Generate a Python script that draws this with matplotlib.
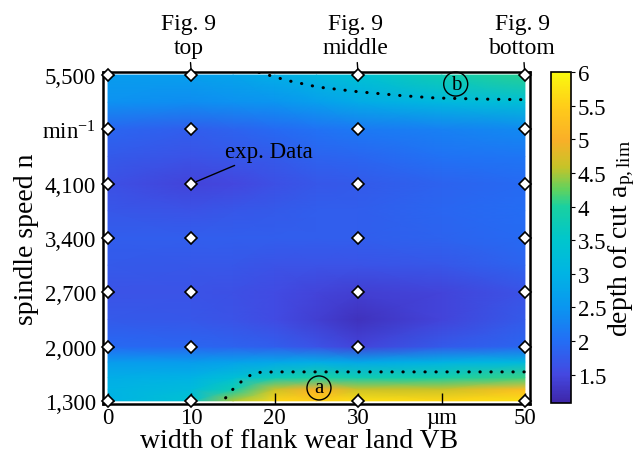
import matplotlib

matplotlib.use('Agg')
import matplotlib.pyplot as plt
import numpy as np
from matplotlib.colors import LinearSegmentedColormap, Normalize

# grid (VB in um, spindle speed in 1/min)
vb = [0, 10, 15, 20, 25, 30, 40, 50]
speed = [1300, 1450, 1600, 1800, 2000, 2350, 2700, 3050, 3400, 3750, 4100, 4450, 4800, 5150, 5500]
depth = [
    [3.0, 3.4, 4.5, 5.6, 5.5, 5.7, 5.6, 5.7],    # 1300
    [3.0, 3.2, 3.8, 4.6, 5.0, 4.6, 4.6, 5.2],    # 1450
    [2.9, 3.0, 3.3, 3.7, 4.0, 3.8, 3.9, 4.1],    # 1600
    [2.6, 2.6, 2.7, 2.8, 2.9, 2.8, 3.0, 3.1],    # 1800
    [1.95, 1.9, 1.85, 1.8, 1.65, 1.45, 1.75, 1.9],  # 2000
    [1.75, 1.7, 1.65, 1.55, 1.4, 1.25, 1.45, 1.75],  # 2350
    [1.65, 1.65, 1.6, 1.55, 1.45, 1.4, 1.45, 1.65],  # 2700
    [1.75, 1.7, 1.7, 1.65, 1.65, 1.65, 1.7, 1.85],  # 3050
    [1.8, 1.8, 1.8, 1.8, 1.8, 1.8, 1.85, 1.95],  # 3400
    [1.7, 1.65, 1.7, 1.75, 1.8, 1.8, 1.9, 2.0],  # 3750
    [1.6, 1.45, 1.5, 1.6, 1.7, 1.75, 1.85, 1.95],  # 4100
    [1.75, 1.65, 1.7, 1.75, 1.85, 1.9, 2.05, 2.1],  # 4450
    [1.9, 1.8, 1.85, 1.95, 2.05, 2.15, 2.25, 2.35],  # 4800
    [2.45, 2.4, 2.45, 2.5, 2.65, 2.85, 3.1, 3.3],  # 5150
    [2.6, 2.65, 2.75, 2.9, 3.1, 3.35, 3.8, 4.05],  # 5500
]

# measured points (markers)
exp_vb = [0, 10, 30, 50]
exp_speed = [1300, 2000, 2700, 3400, 4100, 4800, 5500]

# hand drawn boundaries
line_a_x = [14.1, 14.9, 15.8, 16.7, 17.7, 20.0, 50.6]
line_a_y = [1338, 1441, 1531, 1608, 1665, 1673, 1673]
line_b_x = [18.1, 21.5, 25.2, 30.0, 35.2, 39.2, 45.0, 50.6]
line_b_y = [5535, 5430, 5345, 5285, 5235, 5205, 5190, 5182]

xticks = [0, 10, 20, 30, 40, 50]
xticklabels = ['0', '10', '20', '30', 'µm', '50']
yticks = [1300, 2000, 2700, 3400, 4100, 4800, 5500]
yticklabels = ['1,300', '2,000', '2,700', '3,400', '4,100', r'min$^{\mathrm{-1}}$', '5,500']
cbar_ticks = [1.5, 2, 2.5, 3, 3.5, 4, 4.5, 5, 5.5, 6]
vmin, vmax = 1.08, 6.0

# colour scale as seen on the colour bar (parula like)
cmap_values = [1.08, 1.5, 2.0, 2.5, 3.0, 3.5, 4.0, 4.25, 4.6, 5.0, 5.5, 6.0]
cmap_colors = [(62, 38, 168), (68, 72, 225), (35, 110, 245), (10, 150, 240), (0, 180, 228),
               (0, 198, 205), (25, 208, 160), (95, 210, 95), (200, 195, 40), (250, 175, 40),
               (255, 205, 25), (250, 250, 15)]
cmap = LinearSegmentedColormap.from_list(
    'parula_like',
    [((v - vmin) / (vmax - vmin), tuple(c / 255 for c in col)) for v, col in zip(cmap_values, cmap_colors)],
    N=256)

plt.rcParams['font.family'] = 'Liberation Serif'
plt.rcParams['mathtext.fontset'] = 'custom'
plt.rcParams['mathtext.rm'] = 'Liberation Serif'
plt.rcParams['mathtext.it'] = 'Liberation Serif:italic'

fig = plt.figure(figsize=(6.4, 4.56), dpi=100)
ax = fig.add_axes([0.161, 0.112, 0.667, 0.728])

X, Y = np.meshgrid(vb, speed)
norm = Normalize(vmin=vmin, vmax=vmax)
mesh = ax.pcolormesh(X, Y, np.array(depth), cmap=cmap, norm=norm, shading='gouraud')

ax.plot(line_a_x, line_a_y, color='black', lw=2.2, linestyle=(0, (0.1, 3.5)), dash_capstyle='round')
ax.plot(line_b_x, line_b_y, color='black', lw=2.2, linestyle=(0, (0.1, 3.5)), dash_capstyle='round')

EX, EY = np.meshgrid(exp_vb, exp_speed)
ax.plot(EX.ravel(), EY.ravel(), 'D', ms=6.5, mfc='white', mec='black', mew=1.2, clip_on=False, zorder=5)

ax.set_xlim(-0.6, 50.6)
ax.set_ylim(1260, 5540)
ax.set_xticks(xticks)
ax.set_xticklabels(xticklabels)
ax.set_yticks(yticks)
ax.set_yticklabels(yticklabels)
ax.tick_params(direction='in', length=8, width=1, labelsize=16.5)
ax.tick_params(axis='x', pad=2)
ax.tick_params(axis='y', pad=5)
for s in ax.spines.values():
    s.set_linewidth(1.8)

ax.set_xlabel('width of flank wear land VB', fontsize=20, labelpad=0)
ax.xaxis.set_label_coords(0.46, -0.072)
ax.set_ylabel('spindle speed n', fontsize=20, labelpad=2)

# top labels
for xv, name in zip([10, 30, 50], ['top', 'middle', 'bottom']):
    ax.annotate('Fig. 9\n' + name, xy=(xv, 5500), xytext=(-2, 12), textcoords='offset points',
                ha='center', va='bottom', fontsize=17, linespacing=1.2,
                arrowprops=dict(arrowstyle='-', lw=1, color='black', shrinkA=1, shrinkB=4))

ax.annotate('exp. Data', xy=(10, 4100), xytext=(14.0, 4520), ha='left', va='center', fontsize=16.5,
            arrowprops=dict(arrowstyle='-', lw=1, color='black', shrinkA=2, shrinkB=4))

ax.text(25.3, 1466, 'a', fontsize=15, ha='center', va='center',
        bbox=dict(boxstyle='circle,pad=0.12', fc='none', ec='black', lw=1))
ax.text(41.7, 5384, 'b', fontsize=15, ha='center', va='center',
        bbox=dict(boxstyle='circle,pad=0.12', fc='none', ec='black', lw=1))

cax = fig.add_axes([0.861, 0.114, 0.031, 0.726])
cb = fig.colorbar(mesh, cax=cax, ticks=cbar_ticks)
cb.ax.set_yticklabels(['1.5', '2', '2.5', '3', '3.5', '4', '4.5', '5', '5.5', '6'])
cb.ax.tick_params(direction='out', length=3, labelsize=16.5, pad=2)
cb.outline.set_linewidth(1.2)
cb.set_label(r'depth of cut a$_{\mathrm{p,lim}}$', fontsize=20, labelpad=0)

fig.savefig('out.png', dpi=100)
